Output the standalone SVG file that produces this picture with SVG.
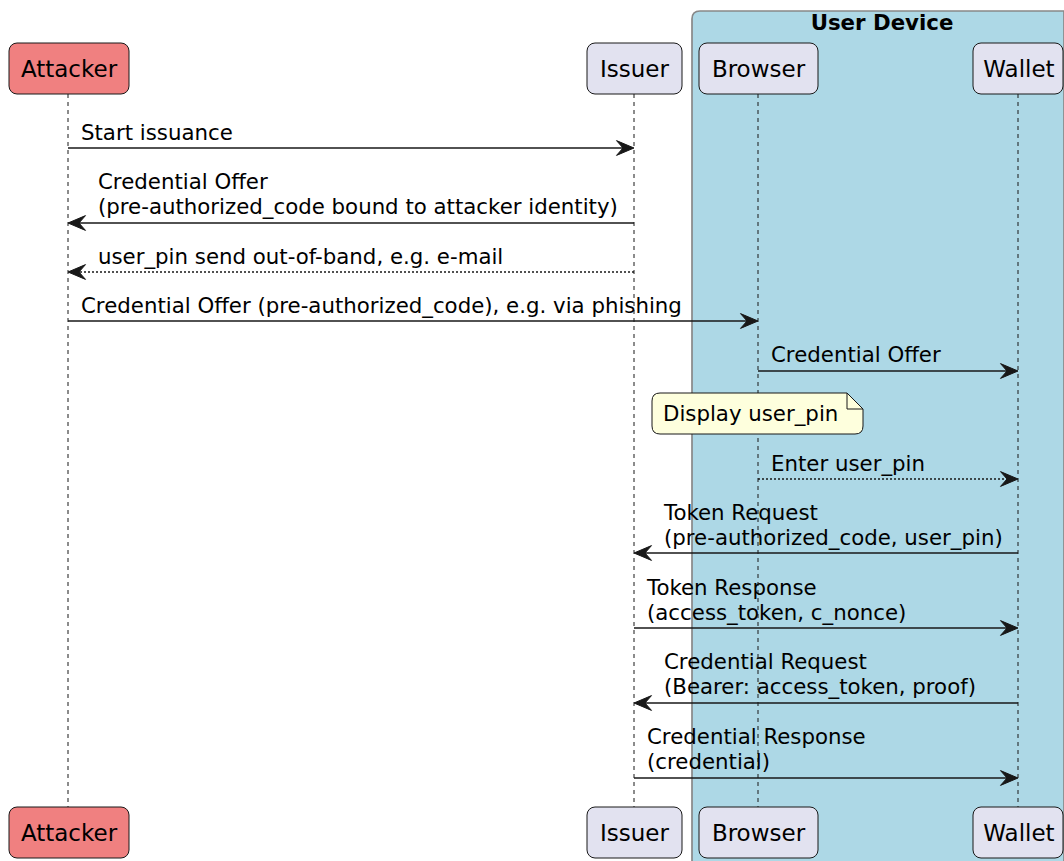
<svg xmlns="http://www.w3.org/2000/svg" width="1064" height="861" viewBox="0 0 1064 861">
<style>
text{font-family:"DejaVu Sans",sans-serif;fill:#000}
.msg{font-size:21.3px}
.pt{font-size:23px}
.title{font-size:21.3px;font-weight:bold}
.pbox{fill:#E2E2F0;stroke:#181818;stroke-width:1}
.atk{fill:#F08080;stroke:#181818;stroke-width:1}
.life{stroke:#181818;stroke-width:1;stroke-dasharray:4,4;fill:none}
.line{stroke:#181818;stroke-width:1.7;fill:none}
.dot{stroke:#181818;stroke-width:1.7;fill:none;stroke-dasharray:2,2}
.head{fill:#181818;stroke:#181818;stroke-width:1}
</style>
<rect width="1064" height="861" fill="#FFFFFF"/>
<g id="box-user-device">
<path d="M692,875 L692,19 Q692,11 700,11 L1064,11 L1064,875 Z" fill="#ADD8E6" stroke="#888888" stroke-width="1.7"/>
<text class="title" x="882" y="30" text-anchor="middle">User Device</text>
</g>
<g id="lifelines">
<line class="life" x1="68" y1="94" x2="68" y2="807"/>
<line class="life" x1="634" y1="94" x2="634" y2="807"/>
<line class="life" x1="758" y1="94" x2="758" y2="807"/>
<line class="life" x1="1018" y1="94" x2="1018" y2="807"/>
</g>
<g id="attacker">
<rect class="atk" x="9" y="43" width="120" height="51" rx="8"/>
<text class="pt" x="69" y="77" text-anchor="middle">Attacker</text>
<rect class="atk" x="9" y="807" width="120" height="51" rx="8"/>
<text class="pt" x="69" y="841" text-anchor="middle">Attacker</text>
</g>
<g id="issuer">
<rect class="pbox" x="587" y="43" width="95" height="51" rx="8"/>
<text class="pt" x="634.5" y="77" text-anchor="middle">Issuer</text>
<rect class="pbox" x="587" y="807" width="95" height="51" rx="8"/>
<text class="pt" x="634.5" y="841" text-anchor="middle">Issuer</text>
</g>
<g id="browser">
<rect class="pbox" x="699" y="43" width="119" height="51" rx="8"/>
<text class="pt" x="758.5" y="77" text-anchor="middle">Browser</text>
<rect class="pbox" x="699" y="807" width="119" height="51" rx="8"/>
<text class="pt" x="758.5" y="841" text-anchor="middle">Browser</text>
</g>
<g id="wallet">
<rect class="pbox" x="973" y="43" width="90" height="51" rx="8"/>
<text class="pt" x="1019" y="77" text-anchor="middle">Wallet</text>
<rect class="pbox" x="973" y="807" width="90" height="51" rx="8"/>
<text class="pt" x="1019" y="841" text-anchor="middle">Wallet</text>
</g>
<g id="note-display">
<path d="M652,401 Q652,393 660,393 L847,393 L863,409 L863,426 Q863,434 855,434 L660,434 Q652,434 652,426 Z" fill="#FEFFDD" stroke="#181818" stroke-width="1"/>
<path d="M847,393 L847,409 L863,409" fill="none" stroke="#181818" stroke-width="1"/>
<text class="msg" x="663" y="421">Display user_pin</text>
</g>
<g id="connectors">
<line class="line" x1="68" y1="148" x2="626" y2="148"/>
<polygon class="head" points="634,148 616.5,140.6 623,148 616.5,155.4"/>
<text class="msg" x="81" y="140">Start issuance</text>

<line class="line" x1="76" y1="223" x2="634" y2="223"/>
<polygon class="head" points="68,223 85.5,215.6 79,223 85.5,230.4"/>
<text class="msg" x="98" y="189">Credential Offer</text>
<text class="msg" x="98" y="214">(pre-authorized_code bound to attacker identity)</text>

<line class="dot" x1="76" y1="272" x2="634" y2="272"/>
<polygon class="head" points="68,272 85.5,264.6 79,272 85.5,279.4"/>
<text class="msg" x="98" y="264">user_pin send out-of-band, e.g. e-mail</text>

<line class="line" x1="68" y1="321" x2="750" y2="321"/>
<polygon class="head" points="758,321 740.5,313.6 747,321 740.5,328.4"/>
<text class="msg" x="81" y="313">Credential Offer (pre-authorized_code), e.g. via phishing</text>

<line class="line" x1="758" y1="371" x2="1010" y2="371"/>
<polygon class="head" points="1018,371 1000.5,363.6 1007,371 1000.5,378.4"/>
<text class="msg" x="771" y="362">Credential Offer</text>

<line class="dot" x1="758" y1="479" x2="1010" y2="479"/>
<polygon class="head" points="1018,479 1000.5,471.6 1007,479 1000.5,486.4"/>
<text class="msg" x="771" y="471">Enter user_pin</text>

<line class="line" x1="642" y1="553" x2="1018" y2="553"/>
<polygon class="head" points="634,553 651.5,545.6 645,553 651.5,560.4"/>
<text class="msg" x="664" y="520">Token Request</text>
<text class="msg" x="664" y="545">(pre-authorized_code, user_pin)</text>

<line class="line" x1="634" y1="628" x2="1010" y2="628"/>
<polygon class="head" points="1018,628 1000.5,620.6 1007,628 1000.5,635.4"/>
<text class="msg" x="647" y="595">Token Response</text>
<text class="msg" x="647" y="620">(access_token, c_nonce)</text>

<line class="line" x1="642" y1="703" x2="1018" y2="703"/>
<polygon class="head" points="634,703 651.5,695.6 645,703 651.5,710.4"/>
<text class="msg" x="664" y="669">Credential Request</text>
<text class="msg" x="664" y="694">(Bearer: access_token, proof)</text>

<line class="line" x1="634" y1="778" x2="1010" y2="778"/>
<polygon class="head" points="1018,778 1000.5,770.6 1007,778 1000.5,785.4"/>
<text class="msg" x="647" y="744">Credential Response</text>
<text class="msg" x="647" y="769">(credential)</text>
</g>
</svg>
